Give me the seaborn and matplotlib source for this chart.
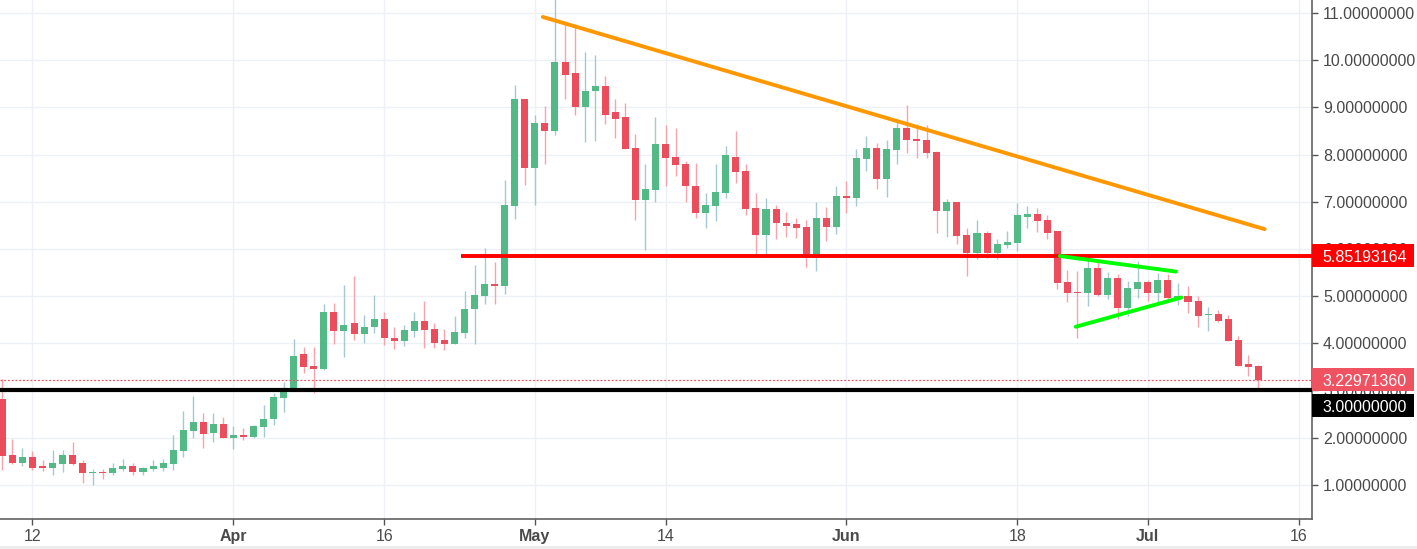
import numpy as np
import pandas as pd
import matplotlib
matplotlib.use("Agg")
import matplotlib.pyplot as plt
import matplotlib.dates as mdates
import matplotlib.transforms as mtransforms
from matplotlib.patches import Rectangle
import seaborn as sns

# --- daily candles, first candle 2018-03-09 ---
start_date = "2018-03-09"
opens = [2.82, 1.63, 1.45, 1.58, 1.39, 1.36, 1.43, 1.63, 1.45, 1.24,
         1.27, 1.24, 1.33, 1.39, 1.27, 1.33, 1.36, 1.43, 1.71, 2.13,
         2.33, 2.09, 2.28, 1.99, 2.06, 2.01, 2.23, 2.39, 2.83, 3.02,
         3.77, 3.51, 3.45, 4.66, 4.26, 4.42, 4.20, 4.34, 4.51, 4.12,
         4.05, 4.26, 4.47, 4.31, 4.07, 3.99, 4.21, 4.72, 5.00, 5.26,
         5.21, 6.91, 9.17, 7.72, 8.68, 8.50, 9.96, 9.74, 9.02, 9.34,
         9.46, 8.91, 8.79, 8.15, 7.04, 7.25, 8.22, 7.96, 7.81, 7.33,
         6.76, 6.91, 7.19, 7.96, 7.66, 6.87, 6.29, 6.84, 6.56, 6.52,
         6.46, 5.81, 6.65, 6.46, 7.12, 7.07, 7.90, 8.15, 7.48, 8.09,
         8.56, 8.33, 8.31, 8.05, 6.81, 6.99, 6.30, 5.92, 6.33, 5.92,
         6.09, 6.12, 6.68, 6.74, 6.61, 6.37, 5.30, 5.08, 5.07, 5.60,
         5.02, 5.39, 4.74, 5.15, 5.30, 5.06, 5.34, 4.95, 5.01, 4.89,
         4.59, 4.63, 4.52, 4.07, 3.55, 3.52]
highs = [3.24, 1.96, 1.77, 1.71, 1.52, 1.73, 1.73, 1.90, 1.52, 1.34,
         1.34, 1.47, 1.54, 1.45, 1.38, 1.52, 1.54, 2.05, 2.57, 2.89,
         2.53, 2.52, 2.43, 2.25, 2.21, 2.26, 2.68, 2.94, 3.18, 4.09,
         3.91, 3.93, 4.83, 4.86, 5.23, 5.43, 4.60, 5.02, 4.66, 4.34,
         4.39, 4.67, 4.89, 4.43, 4.31, 4.58, 5.11, 5.65, 6.02, 5.73,
         7.47, 9.48, 9.18, 8.84, 9.03, 11.38, 10.82, 10.78, 10.18, 10.11,
         9.67, 9.17, 9.09, 8.43, 7.80, 8.80, 8.63, 8.56, 7.86, 7.82,
         7.19, 7.81, 8.18, 8.50, 7.81, 7.19, 7.09, 6.93, 6.79, 6.66,
         6.62, 7.00, 6.90, 7.33, 7.45, 8.11, 8.39, 8.25, 8.30, 8.75,
         9.05, 8.66, 8.63, 8.07, 7.06, 7.00, 6.44, 6.61, 6.37, 6.21,
         6.37, 6.97, 6.91, 6.86, 6.72, 6.38, 5.55, 5.53, 5.84, 5.77,
         5.52, 5.47, 5.32, 5.75, 5.35, 5.49, 5.46, 5.27, 5.21, 5.00,
         4.76, 4.70, 4.60, 4.16, 3.74, 3.53]
lows = [1.32, 1.43, 1.39, 1.32, 1.29, 1.20, 1.26, 1.42, 1.04, 0.99,
        1.11, 1.21, 1.30, 1.21, 1.21, 1.30, 1.30, 1.32, 1.58, 1.99,
        1.77, 1.90, 1.98, 1.75, 1.94, 2.00, 2.01, 2.27, 2.55, 3.01,
        3.37, 2.95, 3.44, 3.99, 3.71, 4.07, 4.01, 4.21, 3.97, 3.88,
        3.95, 4.14, 3.90, 3.90, 3.85, 3.98, 4.11, 3.99, 4.84, 4.84,
        5.05, 6.63, 7.36, 6.94, 7.80, 8.42, 9.17, 8.85, 8.26, 8.29,
        8.66, 8.35, 8.11, 6.61, 5.97, 7.00, 7.33, 7.55, 7.00, 6.65,
        6.44, 6.60, 7.07, 7.40, 6.72, 5.85, 5.83, 6.21, 6.26, 6.23,
        5.62, 5.53, 6.16, 6.31, 6.77, 6.91, 7.66, 7.27, 7.10, 7.81,
        8.03, 7.92, 7.92, 6.33, 6.26, 6.11, 5.42, 5.78, 5.81, 5.78,
        6.02, 5.96, 6.44, 6.35, 6.21, 5.16, 4.87, 4.11, 4.78, 5.01,
        4.93, 4.51, 4.58, 4.95, 4.90, 4.84, 4.88, 4.81, 4.65, 4.34,
        4.27, 4.46, 4.05, 3.52, 3.30, 3.04]
closes = [1.61, 1.45, 1.58, 1.36, 1.36, 1.45, 1.63, 1.43, 1.24, 1.27,
          1.24, 1.36, 1.39, 1.27, 1.36, 1.39, 1.45, 1.73, 2.16, 2.33,
          2.07, 2.28, 1.99, 2.06, 2.01, 2.25, 2.40, 2.85, 3.04, 3.73,
          3.50, 3.46, 4.66, 4.26, 4.39, 4.20, 4.34, 4.51, 4.11, 4.05,
          4.28, 4.47, 4.29, 4.01, 3.99, 4.23, 4.73, 5.02, 5.26, 5.21,
          6.93, 9.17, 7.72, 8.68, 8.50, 9.96, 9.69, 9.02, 9.36, 9.46,
          8.85, 8.75, 8.12, 7.04, 7.28, 8.22, 7.93, 7.77, 7.33, 6.76,
          6.93, 7.21, 7.99, 7.64, 6.84, 6.29, 6.84, 6.56, 6.49, 6.44,
          5.81, 6.65, 6.46, 7.12, 7.07, 7.92, 8.15, 7.48, 8.11, 8.56,
          8.31, 8.28, 8.03, 6.81, 6.99, 6.27, 5.92, 6.33, 5.92, 6.10,
          6.14, 6.71, 6.74, 6.59, 6.33, 5.28, 5.06, 5.06, 5.60, 5.02,
          5.39, 4.74, 5.18, 5.30, 5.06, 5.34, 4.95, 5.01, 4.87, 4.58,
          4.63, 4.48, 4.05, 3.52, 3.50, 3.23]

# --- drawn levels / trend lines ---
resistance_dates = ["2018-05-01 19:00", "2018-07-12 15:00"]
resistance_vals = [10.92, 6.42]
support_start = "2018-04-23 15:00"
support_level = 5.85193164
floor_level = 3.0
last_price = 3.2297136
wedge_top_dates = ["2018-06-22 06:00", "2018-07-03 19:00"]
wedge_top_vals = [5.85, 5.52]
wedge_bot_dates = ["2018-06-23 20:00", "2018-07-04 08:00"]
wedge_bot_vals = [4.35, 4.97]

tick_dates = ["2018-03-12", "2018-04-01", "2018-04-16", "2018-05-01", "2018-05-14",
              "2018-06-01", "2018-06-18", "2018-07-01", "2018-07-16"]
tick_labels = ["12", "Apr", "16", "May", "14", "Jun", "18", "Jul", "16"]
price_ticks = list(range(1, 12))

# --- styling ---
sns.set_style("white")
plt.rcParams["font.family"] = ["Liberation Sans", "DejaVu Sans"]
GREEN, RED = "#53b987", "#eb4d5c"
GREEN_WICK, RED_WICK = "#a5c9d0", "#f5a4ae"

df = pd.DataFrame({"date": pd.date_range(start_date, periods=len(opens), freq="D"),
                   "open": opens, "high": highs, "low": lows, "close": closes})
df["x"] = mdates.date2num(df["date"])
df["up"] = df["close"] >= df["open"]

fig = plt.figure(figsize=(14.17, 5.49), dpi=100)
ax = fig.add_axes([0, 30 / 549, 1312 / 1417, 519 / 549])

# wicks
ax.vlines(df["x"], df["low"], df["high"],
          colors=np.where(df["up"], GREEN_WICK, RED_WICK), lw=1, zorder=2)
# bodies
body_lo = np.minimum(df["open"], df["close"])
body_h = np.maximum(np.abs(df["close"] - df["open"]), 0.025)
ax.bar(df["x"], body_h, bottom=body_lo, width=0.7,
       color=np.where(df["up"], GREEN, RED), linewidth=0, zorder=3)

x_left = mdates.date2num(pd.Timestamp("2018-03-08 18:24"))
x_right = mdates.date2num(pd.Timestamp("2018-07-17 08:10"))

# levels
ax.axhline(last_price, color="#ef5361", lw=0.9, ls=(0, (1.5, 1.5)), zorder=4)
ax.axhline(floor_level, color="black", lw=3, zorder=4)
ax.hlines(support_level, mdates.date2num(pd.Timestamp(support_start)), x_right,
          color="#ff0000", lw=2.8, zorder=4)

sns.lineplot(x=mdates.date2num(pd.to_datetime(resistance_dates)), y=resistance_vals,
             color="#ff9800", lw=2.8, ax=ax, zorder=5)
sns.lineplot(x=mdates.date2num(pd.to_datetime(wedge_top_dates)), y=wedge_top_vals,
             color="#00ff00", lw=2.8, ax=ax, zorder=5)
sns.lineplot(x=mdates.date2num(pd.to_datetime(wedge_bot_dates)), y=wedge_bot_vals,
             color="#00ff00", lw=2.8, ax=ax, zorder=5)

ax.set_xlim(x_left, x_right)
ax.set_ylim(0.272, 11.28)

# axes
ax.yaxis.tick_right()
ax.set_yticks(price_ticks)
ax.set_yticklabels([f"{v:.8f}" for v in price_ticks])
ax.set_xticks(mdates.date2num(pd.to_datetime(tick_dates)))
ax.set_xticklabels(tick_labels)
for lbl in ax.get_xticklabels():
    if not lbl.get_text().isdigit():
        lbl.set_fontweight("bold")
ax.grid(True, color="#edf1f5", lw=1, zorder=0)
ax.set_axisbelow(True)
for side in ["left", "top"]:
    ax.spines[side].set_visible(False)
for side in ["right", "bottom"]:
    ax.spines[side].set_color("#555555")
    ax.spines[side].set_linewidth(1.1)
ax.tick_params(axis="both", bottom=True, right=True, left=False, length=4, width=1,
               color="#555555", labelcolor="#4a4a4a", labelsize=11.5)
ax.tick_params(axis="y", pad=4)
ax.tick_params(axis="x", pad=3)
ax.set_xlabel("")
ax.set_ylabel("")

# price boxes on the right scale
trans = mtransforms.blended_transform_factory(ax.transAxes, ax.transData)
box_h = 23 / 47.14
boxes = [(support_level, 0.0, "5.85193164", "#ff0000"),
         (last_price, 0.0, "3.22971360", "#ef5361"),
         (floor_level, -0.33, "3.00000000", "#000000")]
for val, shift, label, face in boxes:
    ax.add_patch(Rectangle((1.0, val + shift - box_h / 2), 102 / 1312, box_h,
                           transform=trans, facecolor=face, edgecolor="none",
                           clip_on=False, zorder=6))
    ax.text(1.0082, val + shift, label, transform=trans, color="white",
            fontsize=11.5, ha="left", va="center_baseline", clip_on=False, zorder=7)

fig.add_artist(Rectangle((0, 0), 1, 3 / 549, transform=fig.transFigure,
                         facecolor="#ececec", edgecolor="none"))

fig.savefig("out.png", dpi=100)
